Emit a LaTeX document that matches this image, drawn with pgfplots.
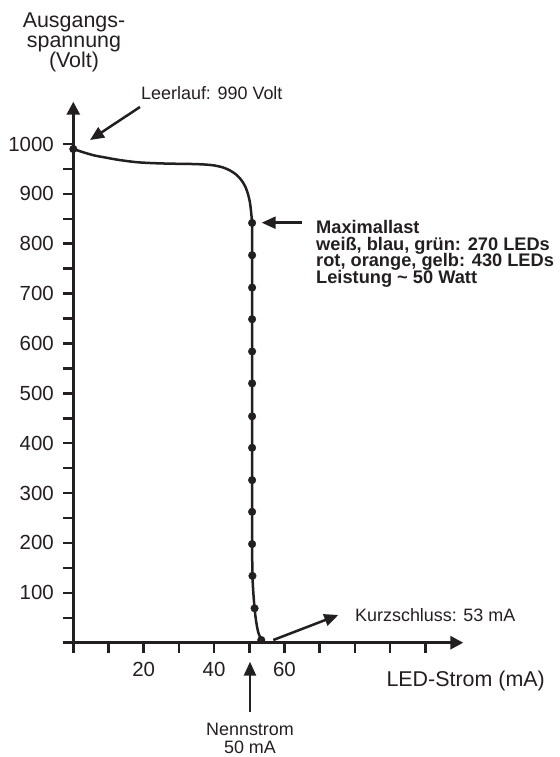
\documentclass[border=0pt]{standalone}
\usepackage{pgfplots}
\pgfplotsset{compat=1.18}
\usetikzlibrary{arrows.meta}
\usepackage{fontspec}
\setmainfont{Liberation Sans}
\definecolor{ink}{HTML}{231F20}
\begin{document}
\begin{tikzpicture}
\path[use as bounding box] (0,0) rectangle (560bp,-757bp);
\begin{axis}[
  at={(73.3bp,-642.7bp)}, anchor=south west,
  scale only axis, width=390bp, height=541bp,
  xmin=0, xmax=110.8, ymin=0, ymax=1084.8,
  axis x line=bottom, axis y line=left,
  axis line style={ink, line width=3bp, -{Triangle[length=13bp,width=13bp]}},
  xtick={0,10,...,100}, xticklabels={,,20,,40,,60,,,,},
  ytick={0,50,...,1000},
  yticklabels={,,100,,200,,300,,400,,500,,600,,700,,800,,900,,1000},
  tick align=outside, major tick length=10bp,
  tick style={ink, line width=2.5bp},
  minor tick num=0,
  ticklabel style={font=\fontsize{20.5}{24}\selectfont, text=ink},
  yticklabel style={xshift=-6bp},
  xticklabel style={yshift=-6bp},
  /pgf/number format/assume math mode=true,
  clip=false,
]
\addplot[ink, line width=2.5bp, smooth, tension=0.5] coordinates {
(0,990) (3,983) (6,977) (9,973) (13,968) (18,963.5) (23,961.5) (28,960.5)
(33,960) (37,959) (40,957) (42.5,953) (44.5,947) (46.4,938) (47.8,927)
(48.9,914) (49.7,898) (50.2,882) (50.5,865) (50.7,850) (50.8,841.7)
(50.8,777) (50.8,712) (50.8,648.7) (50.8,584) (50.8,520) (50.8,454)
(50.8,390.8) (50.8,326) (50.8,262.5) (50.8,197.8) (50.9,134) (51.15,100)
(51.5,69) (51.9,45) (52.5,22) (53.4,5.4)
};
\addplot[only marks, mark=*, mark size=3.8bp, ink, mark options={fill=ink, draw=ink}] coordinates {
(0,990) (50.8,841.7) (50.8,777) (50.8,712) (50.8,648.7) (50.8,584) (50.8,520)
(50.8,454) (50.8,390.8) (50.8,326) (50.8,262.5) (50.8,197.8) (50.9,134)
(51.5,69) (53.4,5.4)
};
\end{axis}
\begin{scope}[ink, line width=2.5bp, -{Triangle[length=14bp,width=12bp]}]
\draw (140bp,-107bp) -- (90bp,-140bp);
\draw (301.7bp,-222.7bp) -- (261.7bp,-222.7bp);
\draw (273.3bp,-640bp) -- (338.3bp,-615bp);
\draw (250bp,-711.7bp) -- (250bp,-661.7bp);
\end{scope}
\begin{scope}[every node/.style={inner sep=0pt, text=ink}]
\node[anchor=base, font=\fontsize{21.5}{24}\selectfont] at (74bp,-27bp) {Ausgangs-};
\node[anchor=base, font=\fontsize{21.5}{24}\selectfont] at (74bp,-47bp) {spannung};
\node[anchor=base, font=\fontsize{21.5}{24}\selectfont] at (74bp,-67bp) {(Volt)};
\node[anchor=base west, font=\fontsize{18}{20}\selectfont] at (141bp,-99.5bp) {Leerlauf: 990 Volt};
\node[anchor=base west, font=\fontsize{18.3}{20}\selectfont\bfseries] at (316bp,-233.3bp) {Maximallast};
\node[anchor=base west, font=\fontsize{18.3}{20}\selectfont\bfseries] at (316bp,-250bp) {weiß, blau, grün: 270 LEDs};
\node[anchor=base west, font=\fontsize{18.3}{20}\selectfont\bfseries] at (316bp,-266.7bp) {rot, orange, gelb: 430 LEDs};
\node[anchor=base west, font=\fontsize{18.3}{20}\selectfont\bfseries] at (316bp,-283.3bp) {Leistung \textasciitilde{} 50 Watt};
\node[anchor=base west, font=\fontsize{18}{20}\selectfont] at (355bp,-621.7bp) {Kurzschluss: 53 mA};
\node[anchor=base, font=\fontsize{18}{20}\selectfont] at (250bp,-735bp) {Nennstrom};
\node[anchor=base, font=\fontsize{18}{20}\selectfont] at (250bp,-753.5bp) {50 mA};
\node[anchor=base east, font=\fontsize{21.5}{24}\selectfont] at (545bp,-686bp) {LED-Strom (mA)};
\end{scope}
\end{tikzpicture}
\end{document}
